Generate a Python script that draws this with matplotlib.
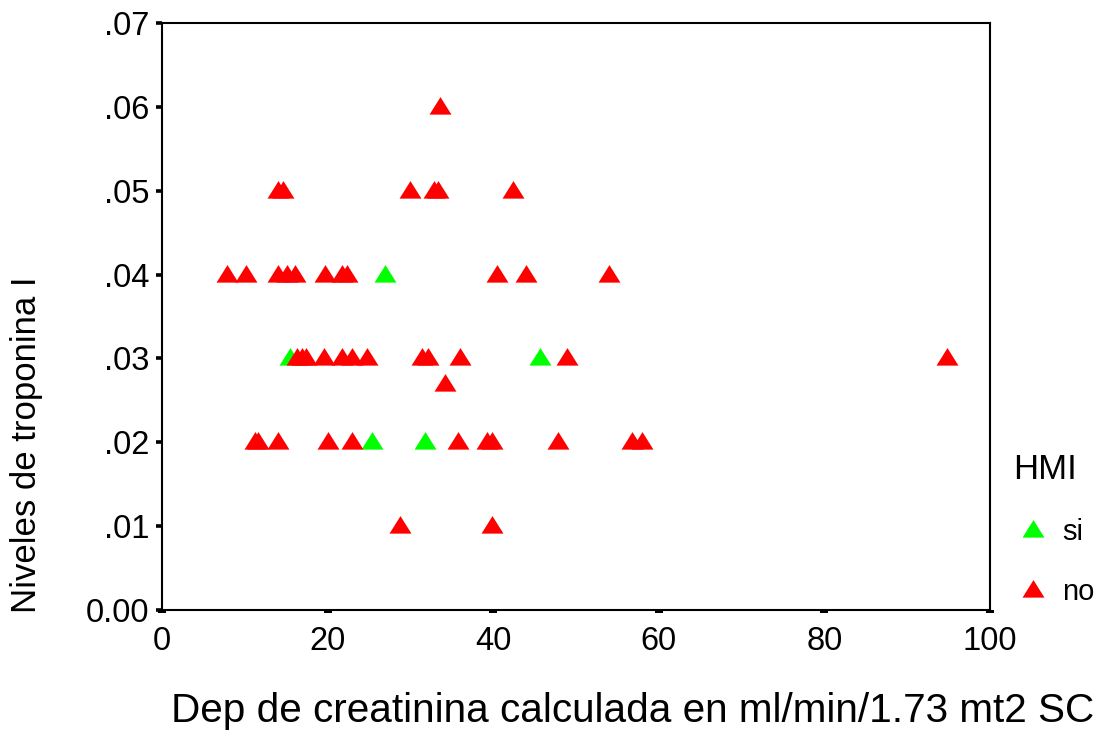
import matplotlib
matplotlib.use("Agg")
import matplotlib.pyplot as plt
from matplotlib.lines import Line2D
import numpy as np

plt.rcParams['font.family'] = ['Liberation Sans', 'DejaVu Sans']

# Data: creatinine clearance (x) vs troponin I (y), grouped by HMI
si_x = [15.5, 26.9, 45.7, 25.4, 31.8]
si_y = [0.03, 0.04, 0.03, 0.02, 0.02]

no_x = [33.6,
        14.0, 14.6, 29.9, 32.8, 33.3, 42.4,
        7.9, 10.1, 14.0, 15.1, 16.1, 19.7, 21.7, 22.3, 40.5, 44.0, 54.0,
        16.3, 16.9, 17.4, 19.6, 21.7, 22.9, 24.8, 31.4, 32.1, 36.0, 48.9, 94.8,
        34.2,
        11.2, 11.6, 14.0, 20.0, 23.0, 35.7, 39.3, 39.9, 47.8, 56.8, 58.0,
        28.7, 39.9]
no_y = [0.06,
        0.05, 0.05, 0.05, 0.05, 0.05, 0.05,
        0.04, 0.04, 0.04, 0.04, 0.04, 0.04, 0.04, 0.04, 0.04, 0.04, 0.04,
        0.03, 0.03, 0.03, 0.03, 0.03, 0.03, 0.03, 0.03, 0.03, 0.03, 0.03, 0.03,
        0.027,
        0.02, 0.02, 0.02, 0.02, 0.02, 0.02, 0.02, 0.02, 0.02, 0.02, 0.02,
        0.01, 0.01]

x_ticks = [0, 20, 40, 60, 80, 100]
x_tick_labels = ['0', '20', '40', '60', '80', '100']
y_ticks = [0.0, 0.01, 0.02, 0.03, 0.04, 0.05, 0.06, 0.07]
y_tick_labels = ['0.00', '.01', '.02', '.03', '.04', '.05', '.06', '.07']

group_labels = ['si', 'no']
group_colors = ['#00ff00', '#ff0000']
legend_title = 'HMI'
xlabel = 'Dep de creatinina calculada en ml/min/1.73 mt2 SC'
ylabel = 'Niveles de troponina I'

tri = [(-1, -0.65), (1, -0.65), (0, 0.95), (-1, -0.65)]
msize = 15.8

fig = plt.figure(figsize=(11.04, 7.30), dpi=100)
ax = fig.add_axes([162/1104, 1 - 610/730, 828/1104, 587/730])

ax.plot(si_x, si_y, linestyle='none', marker=tri, markersize=msize,
        color=group_colors[0], markeredgewidth=0, zorder=3)
ax.plot(no_x, no_y, linestyle='none', marker=tri, markersize=msize,
        color=group_colors[1], markeredgewidth=0, zorder=4)

ax.set_xlim(0, 100)
ax.set_ylim(0, 0.07)
ax.set_xticks(x_ticks)
ax.set_xticklabels(x_tick_labels)
ax.set_yticks(y_ticks)
ax.set_yticklabels(y_tick_labels)

for s in ax.spines.values():
    s.set_linewidth(1.5)
    s.set_color('black')

ax.tick_params(axis='x', direction='out', length=2.2, width=5.8, pad=9.5,
               labelsize=23.5)
ax.tick_params(axis='y', direction='out', length=4.3, width=2.6, pad=5,
               labelsize=23.5)

ax.text(0.568, -0.172, xlabel, transform=ax.transAxes, ha='center',
        va='center', fontsize=29.2)
ax.text(-0.164, 0.281, ylabel, transform=ax.transAxes, ha='center',
        va='center', rotation=90, fontsize=25)

handles = [Line2D([], [], linestyle='none', marker=tri, markersize=msize,
                  color=c, markeredgewidth=0) for c in group_colors]
leg = fig.legend(handles, group_labels, title=legend_title,
                 loc='upper left', bbox_to_anchor=(1007/1104, 1 - 447/730),
                 frameon=False, fontsize=21, title_fontsize=25,
                 alignment='left', labelspacing=1.1, handlelength=1.4,
                 handletextpad=0.3, borderpad=0.2, borderaxespad=0)

fig.savefig('out.png', dpi=100)
